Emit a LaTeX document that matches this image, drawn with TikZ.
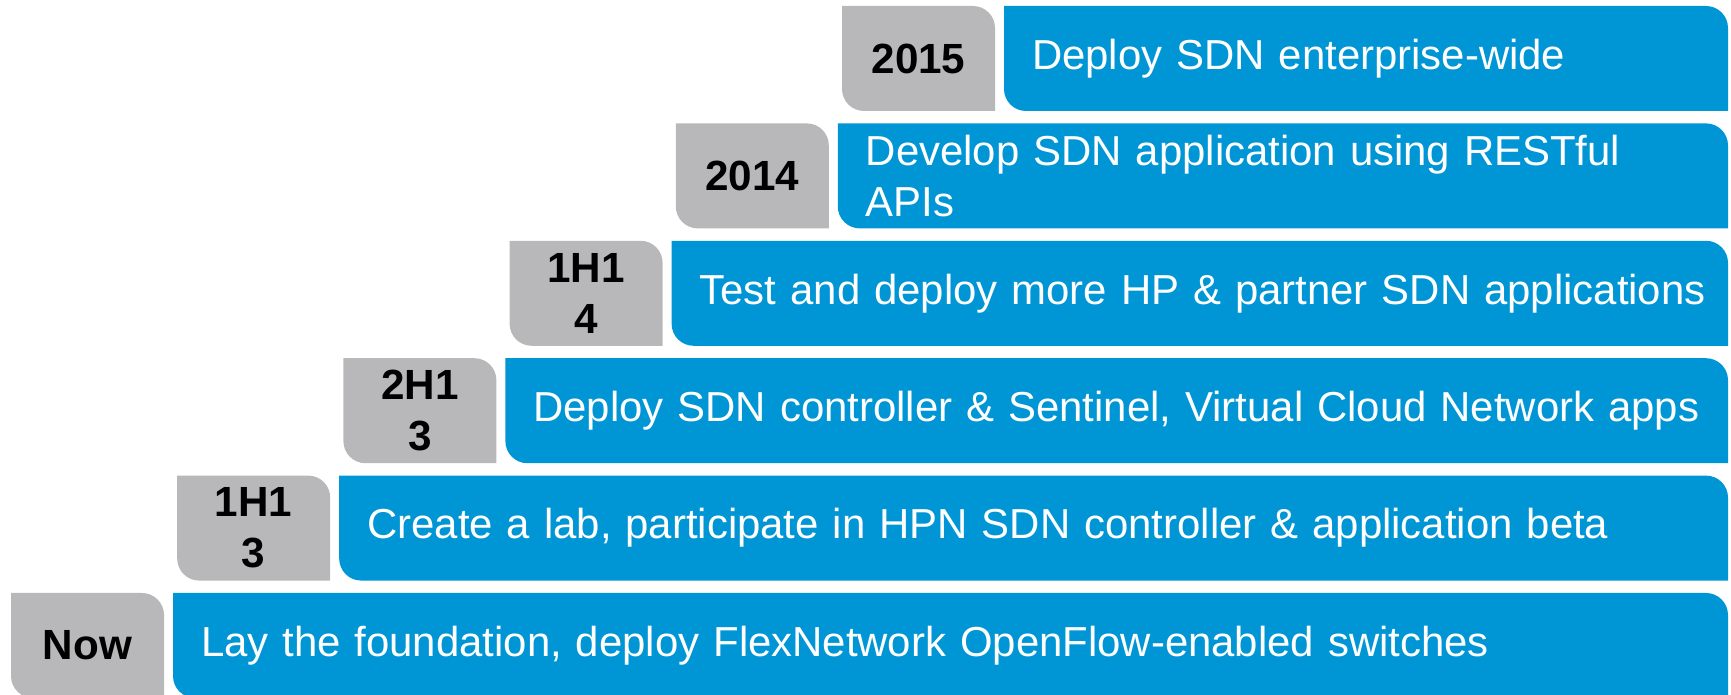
\documentclass[tikz,border=0pt]{standalone}
\usepackage{fontspec}
\setmainfont{Liberation Sans}
\usepackage{tikz}
\usetikzlibrary{positioning, calc, backgrounds}
\definecolor{hpblue}{RGB}{0,150,214}
\definecolor{taggray}{RGB}{184,184,186}

\begin{document}
\begin{tikzpicture}[x=1pt, y=1pt,
    tag/.style = {minimum width=153pt, minimum height=105pt, inner sep=0pt, outer sep=0pt, align=center,
      text=black, font=\fontsize{42.2}{51}\selectfont\bfseries},
    task/.style = {minimum height=105pt, inner xsep=28pt, inner ysep=0pt, outer sep=0pt, text width=#1, align=left,
      text=white, font=\fontsize{41.9}{51}\selectfont},
    node distance=12.4pt and 13.2pt]
        \useasboundingbox (0,0) rectangle (1731,695);
        \coordinate (rim) at (1728,0);
        \node[tag] (y0) at (87.5,49.5) {Now};
        \node[tag, above right=of y0.north east, anchor=south west] (y1) {1H1\\3};
        \node[tag, above right=of y1.north east, anchor=south west] (y2) {2H1\\3};
        \node[tag, above right=of y2.north east, anchor=south west] (y3) {1H1\\4};
        \node[tag, above right=of y3.north east, anchor=south west] (y4) {2014};
        \node[tag, above right=of y4.north east, anchor=south west] (y5) {2015};
        \node[task=1515pt, right=9pt of y0] (t0) {Lay the foundation, deploy FlexNetwork OpenFlow-enabled switches};
        \node[task=1348.8pt, right=9pt of y1] (t1) {Create a lab, participate in HPN SDN controller \& application beta};
        \node[task=1182.6pt, right=9pt of y2] (t2) {Deploy SDN controller \& Sentinel, Virtual Cloud Network apps};
        \node[task=1016.4pt, right=9pt of y3] (t3) {Test and deploy more HP \& partner SDN applications};
        \node[task=850.2pt, right=9pt of y4] (t4) {Develop SDN application using RESTful\\APIs};
        \node[task=684pt, right=9pt of y5] (t5) {Deploy SDN enterprise-wide};
        % boxes: round top right and bottom left corners
        \begin{scope}[on background layer]
        \foreach \i in {0,...,5} {
            \fill[taggray] (y\i.north west) -- ($(y\i.north east)+(-22,0)$) arc[start angle=90, end angle=0, radius=22]
                -- (y\i.south east) -- ($(y\i.south west)+(22,0)$) arc[start angle=270, end angle=180, radius=22] -- cycle;
            \fill[hpblue] (t\i.north west) -- ($(rim |- t\i.north)+(-22,0)$) arc[start angle=90, end angle=0, radius=22]
                -- (rim |- t\i.south) -- ($(t\i.south west)+(22,0)$) arc[start angle=270, end angle=180, radius=22] -- cycle;
        }
        \end{scope}
    \end{tikzpicture}
\end{document}
